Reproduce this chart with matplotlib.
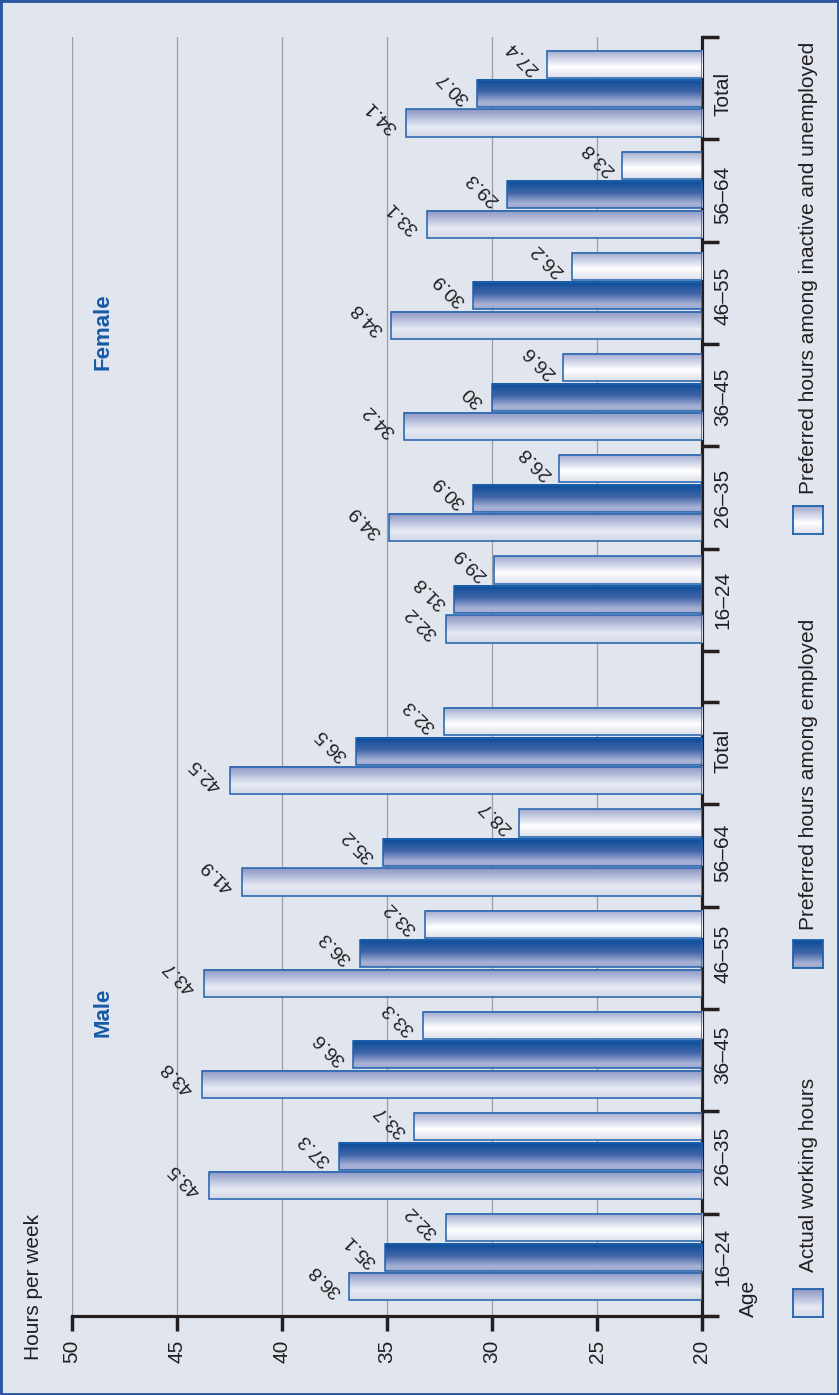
import numpy as np
import matplotlib
matplotlib.use('Agg')
import matplotlib.pyplot as plt
from matplotlib.colors import LinearSegmentedColormap
from matplotlib.patches import Rectangle

plt.rcParams['font.family'] = ['Liberation Sans', 'DejaVu Sans']

# data
ages = ['16–24', '26–35', '36–45', '46–55', '56–64', 'Total']
male_actual = [36.8, 43.5, 43.8, 43.7, 41.9, 42.5]
male_pref_emp = [35.1, 37.3, 36.6, 36.3, 35.2, 36.5]
male_pref_inact = [32.2, 33.7, 33.3, 33.2, 28.7, 32.3]
female_actual = [32.2, 34.9, 34.2, 34.8, 33.1, 34.1]
female_pref_emp = [31.8, 30.9, 30.0, 30.9, 29.3, 30.7]
female_pref_inact = [29.9, 26.8, 26.6, 26.2, 23.8, 27.4]
series_names = ['Actual working hours',
                'Preferred hours among employed',
                'Preferred hours among inactive and unemployed']

bg = '#e0e5ee'
txt = '#231f20'
edge = '#1f62ad'
blue_txt = '#1659a6'

# gradients, bottom -> top of bar
cmaps = [
    LinearSegmentedColormap.from_list('light', [(0, '#d3d8e8'), (0.35, '#e7eaf3'), (1, '#8b96c4')]),
    LinearSegmentedColormap.from_list('dark', [(0, '#9da8ce'), (0.15, '#aab3d6'), (0.55, '#4064a8'), (1, '#084c98')]),
    LinearSegmentedColormap.from_list('white', [(0, '#dde0ec'), (0.4, '#ffffff'), (1, '#9fa9ce')]),
]
grad = np.linspace(0, 1, 64).reshape(-1, 1)

fig = plt.figure(figsize=(8.39, 13.95), dpi=100, facecolor=bg)
ax = fig.add_axes([72/839, 79/1395, 630/839, 1279/1395])
ax.set_facecolor(bg)

n = len(ages)
male_slots = np.arange(n) + 0.5
female_slots = np.arange(n) + 7.0
slots = np.concatenate([male_slots, female_slots])
# bars sit on a slightly tighter pitch than the tick marks
centers = 0.574 + 0.989 * (slots - 0.5)
actual = male_actual + female_actual
pref_emp = male_pref_emp + female_pref_emp
pref_inact = male_pref_inact + female_pref_inact

bh = 0.265
offs = [-0.288, 0.0, 0.288]
for k, vals in enumerate([actual, pref_emp, pref_inact]):
    ypos = centers + offs[k]
    bars = ax.barh(ypos, np.array(vals) - 20, left=20, height=bh,
                   facecolor='none', edgecolor=edge, linewidth=1.1, zorder=4)
    for y, v in zip(ypos, vals):
        ax.imshow(grad, cmap=cmaps[k], origin='lower', aspect='auto',
                  extent=(20, v, y - bh/2, y + bh/2), zorder=3,
                  interpolation='bilinear')
        ax.text(v + 0.5, y - 0.07, f'{v:g}', rotation=135, rotation_mode='anchor',
                ha='left', va='center', fontsize=14, color=txt, zorder=5)

ax.set_xlim(50, 20)
ax.set_ylim(0, 12.5)

# value axis
ax.set_xticks([50, 45, 40, 35, 30, 25, 20])
ax.set_xticklabels(['50', '45', '40', '35', '30', '25', '20'], rotation=90)
ax.tick_params(axis='x', direction='out', length=11, width=2.5, color=txt,
               labelsize=15, labelcolor=txt, pad=6)
ax.xaxis.grid(True, color='#9a9ea6', linewidth=0.9)
ax.set_axisbelow(True)

# category axis on the right
ax.yaxis.tick_right()
bounds = list(range(0, 7)) + list(np.arange(6.5, 13.0, 1.0))
ax.set_yticks(bounds)
ax.set_yticklabels([])
ax.set_yticks(centers, minor=True)
ax.set_yticklabels(ages + ages, minor=True, rotation=90, va='center')
ax.tick_params(axis='y', which='major', direction='out', length=12.5, width=2.5,
               color=txt, right=True, left=False)
ax.tick_params(axis='y', which='minor', length=0, pad=8, labelsize=15,
               labelcolor=txt, right=True, left=False)

for s in ['left', 'top']:
    ax.spines[s].set_visible(False)
for s in ['right', 'bottom']:
    ax.spines[s].set_linewidth(2.3)
    ax.spines[s].set_color(txt)

ax.text(48.5, 2.97, 'Male', rotation=90, ha='center', va='center',
        fontsize=16, fontweight='bold', color=blue_txt)
ax.text(48.5, 9.62, 'Female', rotation=90, ha='center', va='center',
        fontsize=16, fontweight='bold', color=blue_txt)

fig.text(34/839, 35/1395, 'Hours per week', rotation=90, ha='center', va='bottom',
         fontsize=15, color=txt)
fig.text(748/839, 78/1395, 'Age', rotation=90, ha='center', va='bottom',
         fontsize=15, color=txt)

# legend
sw_bottom = [78, 427, 861]
txt_bottom = [123, 465, 901]
for k in range(3):
    lax = fig.add_axes([793/839, sw_bottom[k]/1395, 30/839, 28/1395])
    lax.imshow(grad, cmap=cmaps[k], origin='lower', aspect='auto', extent=(0, 1, 0, 1))
    lax.set_xticks([])
    lax.set_yticks([])
    for s in lax.spines.values():
        s.set_color(edge)
        s.set_linewidth(1.3)
    fig.text(809/839, txt_bottom[k]/1395, series_names[k], rotation=90,
             ha='center', va='bottom', fontsize=15, color=txt)

# frame
fig.patches.append(Rectangle((0, 0), 1, 1, transform=fig.transFigure, fill=False,
                             edgecolor='#2c56a0', linewidth=3.5))

fig.savefig('out.png', dpi=100, facecolor=bg)
